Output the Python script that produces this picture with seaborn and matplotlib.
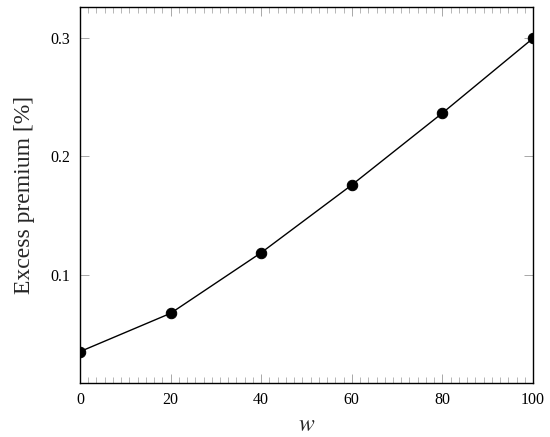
import matplotlib
matplotlib.use("Agg")
import matplotlib.pyplot as plt
from matplotlib.ticker import AutoMinorLocator, MultipleLocator
import pandas as pd
import seaborn as sns

# data
w_values = [0, 20, 40, 60, 80, 100]
excess_premium = [0.0354, 0.0677, 0.1188, 0.1759, 0.2365, 0.2995]
x_ticks = [0, 20, 40, 60, 80, 100]
y_ticks = [0.1, 0.2, 0.3]

df = pd.DataFrame({'w': w_values, 'premium': excess_premium})

sns.set_style('ticks')
plt.rcParams['font.family'] = ['Liberation Serif', 'DejaVu Serif']
plt.rcParams['mathtext.fontset'] = 'stix'

fig = plt.figure(figsize=(5.5, 4.37), dpi=100)
ax = fig.add_axes([80 / 550, 1 - 382.7 / 437, 453 / 550, 375.7 / 437])

sns.lineplot(data=df, x='w', y='premium', ax=ax, color='black', linewidth=1.0,
             marker='o', markersize=7.5, markeredgecolor='black',
             markerfacecolor='black')

ax.set_xlim(0, 100)
ax.set_ylim(0.0092, 0.3259)
ax.set_xticks(x_ticks)
ax.set_yticks(y_ticks)
ax.set_yticklabels([f'{v:.1f}' for v in y_ticks])
ax.xaxis.set_minor_locator(AutoMinorLocator(11))

for side in ['top', 'right', 'bottom', 'left']:
    ax.spines[side].set_visible(True)
    ax.spines[side].set_linewidth(1.0)
    ax.spines[side].set_color('black')

ax.tick_params(axis='both', which='both', direction='in', top=True, right=True,
               color='#9a9a9a', labelsize=11.5, labelcolor='black')
ax.tick_params(axis='both', which='major', length=6.5, width=0.6, pad=7)
ax.tick_params(axis='x', which='minor', length=4, width=0.5)

ax.set_xlabel('$w$', fontsize=17)
ax.set_ylabel('Excess premium [%]', fontsize=17)
ax.xaxis.set_label_coords(0.5, -0.085)
ax.yaxis.set_label_coords(-0.10, 0.5)

fig.savefig('out.png', dpi=100)
